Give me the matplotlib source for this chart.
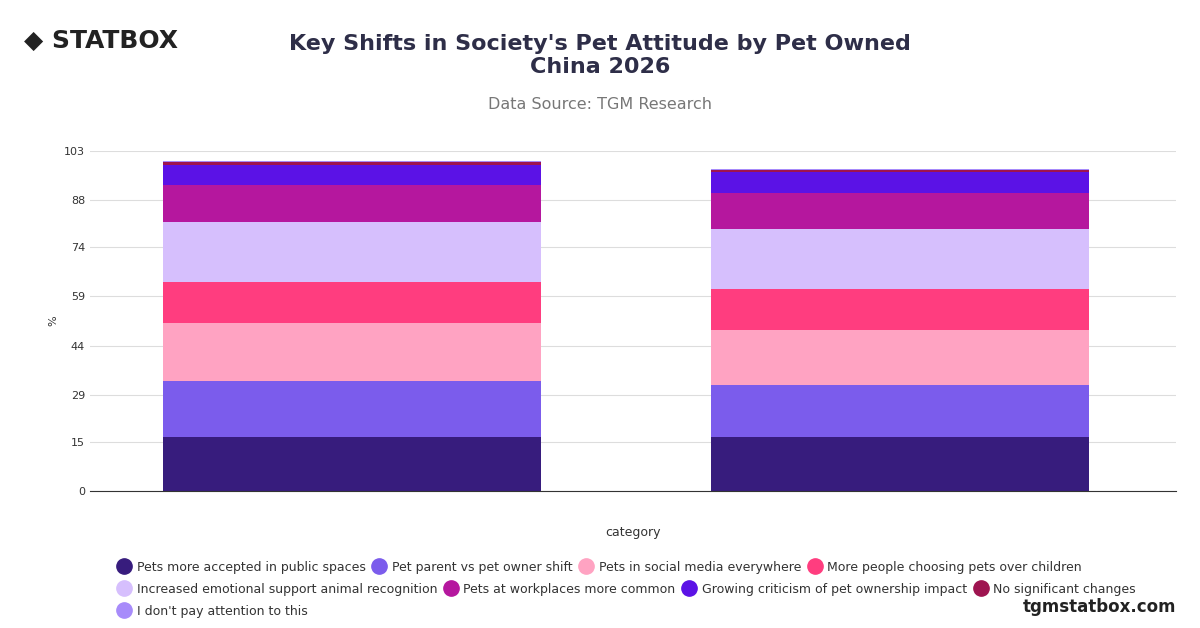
import matplotlib.pyplot as plt
from matplotlib.lines import Line2D
import numpy as np

categories = ['', '']
series = ['Pets more accepted in public spaces', 'Pet parent vs pet owner shift',
          'Pets in social media everywhere', 'More people choosing pets over children',
          'Increased emotional support animal recognition', 'Pets at workplaces more common',
          'Growing criticism of pet ownership impact', 'No significant changes',
          "I don't pay attention to this"]
values = [
    [16.4, 16.4],
    [16.9, 15.7],
    [17.6, 16.7],
    [12.4, 12.4],
    [18.2, 18.2],
    [11.2, 10.9],
    [6.1, 6.4],
    [0.9, 0.6],
    [0.3, 0.2],
]
colors = ['#371c7d', '#7b5cec', '#ffa3c2', '#ff3d7f', '#d6bffd', '#b5179e',
          '#5b12e6', '#9e1450', '#a78bfa']
yticks = [0, 15, 29, 44, 59, 74, 88, 103]

fig = plt.figure(figsize=(12, 6.28), dpi=100)
ax = fig.add_axes([0.075, 0.218, 0.905, 0.542])
x = np.arange(len(categories))
bottom = np.zeros(len(categories))
for i in range(len(series)):
    ax.bar(x, values[i], 0.69, bottom=bottom, color=colors[i], label=series[i])
    bottom += np.array(values[i])

ax.set_xlim(-0.478, 1.504)
ax.set_ylim(0, 103)
ax.set_yticks(yticks)
ax.set_xticks([])
ax.tick_params(axis='y', length=0, labelsize=8, colors='#333333')
ax.grid(axis='y', color='#dddddd', linewidth=0.8)
ax.set_axisbelow(True)
for s in ['top', 'right', 'left']:
    ax.spines[s].set_visible(False)
ax.spines['bottom'].set_color('#333333')
ax.set_ylabel('%', fontsize=8, color='#333333')
ax.set_xlabel('category', fontsize=9, color='#333333', labelpad=25)

fig.text(0.5, 0.912, "Key Shifts in Society's Pet Attitude by Pet Owned\nChina 2026",
         ha='center', va='center', fontsize=16, fontweight='bold', color='#2e2e48')
fig.text(0.5, 0.827, 'Data Source: TGM Research', ha='center', fontsize=11.5, color='#777777')
fig.text(0.02, 0.935, '◆ STATBOX', fontsize=18, fontweight='bold', color='#222222', va='center')
fig.text(0.98, 0.025, 'tgmstatbox.com', ha='right', fontsize=12, fontweight='bold', color='#222222')

handles = [Line2D([], [], marker='o', linestyle='', markersize=11, color=c) for c in colors]
rows = [(0, 4), (4, 8), (8, 9)]
ypos = [0.097, 0.062, 0.027]
for (a, b), yy in zip(rows, ypos):
    leg = fig.legend(handles[a:b], series[a:b], loc='center left', bbox_to_anchor=(0.093, yy),
                     ncol=b - a, frameon=False, fontsize=9, handlelength=1,
                     columnspacing=0.6, handletextpad=0.5, borderpad=0)
    for t in leg.get_texts():
        t.set_color('#333333')
plt.savefig('out.png')
